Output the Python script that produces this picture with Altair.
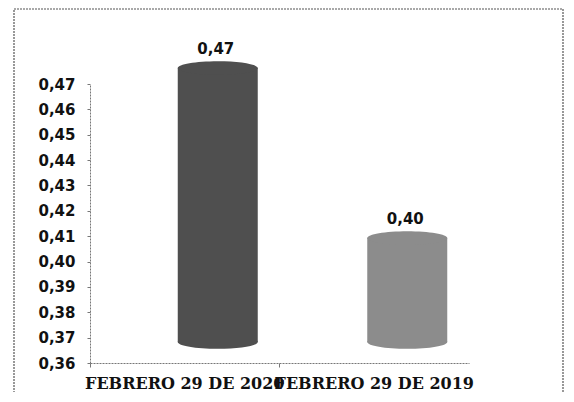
import altair as alt
import pandas as pd

# ---- data ----
categories = ["FEBRERO 29 DE 2020", "FEBRERO 29 DE 2019"]
values = [0.468, 0.401]
y_ticks = [0.36, 0.37, 0.38, 0.39, 0.40, 0.41, 0.42, 0.43, 0.44, 0.45, 0.46, 0.47]
y_min, y_max = 0.36, 0.47

# ---- styles ----
bar_colors = ["#4f4f4f", "#8c8c8c"]
top_colors = ["#616161", "#9a9a9a"]
X_SHIFT = 33      # 3D depth shift of the cylinders
Y_SHIFT = -21
ELLIPSE = "M-1,0A1,0.17,0,1,1,1,0A1,0.17,0,1,1,-1,0Z"

df = pd.DataFrame({"cat": categories, "value": values})

ys = alt.Scale(domain=[y_min, y_max], nice=False, zero=False)
comma_fmt = "replace(format(datum.value, '.2f'), '.', ',')"

x_enc = alt.X(
    "cat:N",
    sort=categories,
    scale=alt.Scale(paddingInner=0, paddingOuter=0),
    axis=alt.Axis(
        title="",
        labelAngle=0,
        labelOverlap=False,
        labelLimit=400,
        labelFont="DejaVu Serif",
        labelFontWeight="bold",
        labelFontSize=16,
        labelColor="#111111",
        labelPadding=8,
        tickSize=4,
        bandPosition=0,
        tickColor="#777777",
        domainColor="#777777",
        domainDash=[2, 1],
    ),
)

y_axis = alt.Axis(
    title="",
    values=y_ticks,
    labelExpr=comma_fmt,
    labelFont="DejaVu Sans",
    labelFontWeight="bold",
    labelFontSize=15,
    labelColor="#111111",
    labelPadding=12,
    tickSize=3,
    tickColor="#777777",
    domainColor="#777777",
    domainDash=[2, 1],
    grid=False,
)

col_bar = alt.Color("cat:N", sort=categories,
                    scale=alt.Scale(domain=categories, range=bar_colors), legend=None)
col_top = alt.Color("cat:N", sort=categories,
                    scale=alt.Scale(domain=categories, range=top_colors), legend=None)

base = alt.Chart(df)

bottom_cap = base.mark_point(
    shape=ELLIPSE, size=6400, filled=True, opacity=1, strokeWidth=0,
    xOffset=X_SHIFT, yOffset=Y_SHIFT,
).encode(
    x=x_enc,
    y=alt.Y(datum=y_min, type="quantitative", scale=ys, axis=y_axis),
    color=col_bar,
)

body = base.mark_bar(
    width=80, xOffset=X_SHIFT, yOffset=Y_SHIFT, y2Offset=Y_SHIFT,
).encode(
    x=x_enc,
    y=alt.Y("value:Q", scale=ys, axis=y_axis),
    y2=alt.Y2(datum=y_min),
    color=col_bar,
)

top_cap = base.mark_point(
    shape=ELLIPSE, size=6400, filled=True, opacity=1, strokeWidth=0,
    xOffset=X_SHIFT, yOffset=Y_SHIFT,
).encode(
    x=x_enc,
    y=alt.Y("value:Q", scale=ys, axis=y_axis),
    color=col_top,
)

labels = base.transform_calculate(lbl=comma_fmt).mark_text(
    font="DejaVu Sans", fontWeight="bold", fontSize=15, color="#111111",
    baseline="bottom", xOffset=X_SHIFT - 2, yOffset=-32,
).encode(
    x=x_enc,
    y=alt.Y("value:Q", scale=ys, axis=y_axis),
    text="lbl:N",
)

frame = alt.Chart(pd.DataFrame({"f": [0]})).mark_rect(
    fillOpacity=0, stroke="#555555", strokeWidth=1.2, strokeDash=[2, 1],
).encode(
    x=alt.value(-76), x2=alt.value(473), y=alt.value(-75), y2=alt.value(330),
)

chart = alt.layer(frame, bottom_cap, body, top_cap, labels).properties(
    width=379,
    height=279,
    padding={"left": 82, "top": 76, "right": 97, "bottom": 29},
    autosize=alt.AutoSizeParams(type="none"),
    background="white",
).configure_view(strokeWidth=0)

chart.save("out.html", embed_options={"renderer": "svg", "actions": False})
